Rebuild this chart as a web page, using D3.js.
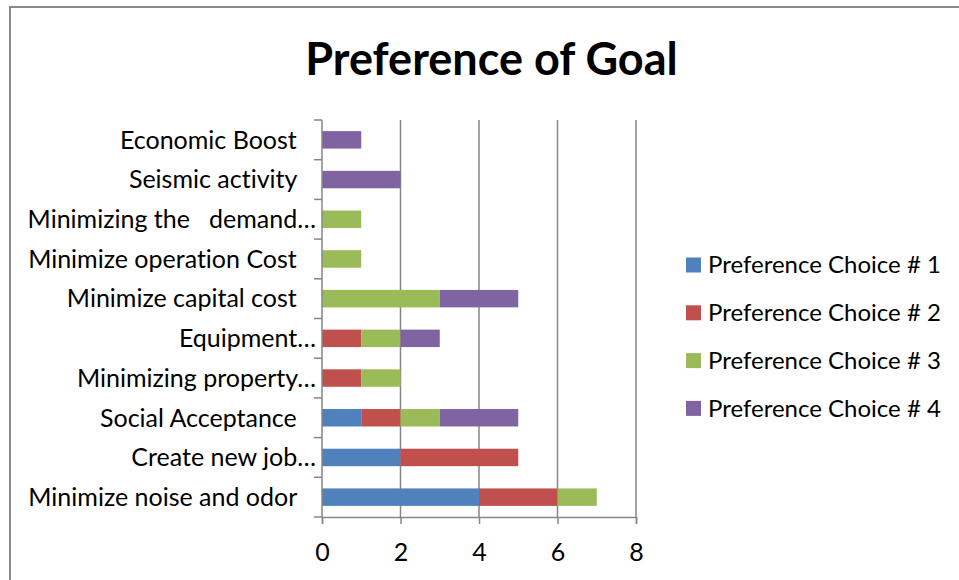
<!DOCTYPE html>
<html><head><meta charset="utf-8">
<script src="https://cdn.jsdelivr.net/npm/d3@7"></script>
<style>
html,body{margin:0;padding:0;background:#fff;}
svg{display:block;}
text{font-family:Lato,"Open Sans",sans-serif;fill:#000;font-variant-ligatures:none;font-feature-settings:"liga" 0,"clig" 0;}
</style></head>
<body>
<svg id="chart" width="959" height="580"></svg>
<script>
const title = "Preference of Goal";
// categories from bottom to top
const categories = [
  "Minimize noise and odor   ",
  "Create new job…",
  "Social Acceptance   ",
  "Minimizing property…",
  "Equipment…",
  "Minimize capital cost   ",
  "Minimize operation Cost   ",
  "Minimizing the   demand…",
  "Seismic activity   ",
  "Economic Boost   "
];
const seriesNames = ["Preference Choice # 1","Preference Choice # 2","Preference Choice # 3","Preference Choice # 4"];
const choice1 = [4,2,1,0,0,0,0,0,0,0];
const choice2 = [2,3,1,1,1,0,0,0,0,0];
const choice3 = [1,0,1,1,1,3,1,1,0,0];
const choice4 = [0,0,2,0,1,2,0,0,2,1];
const xTicks = [0,2,4,6,8];
const colors = ["#4F81BD","#C0504D","#9BBB59","#8064A2"];

const svg = d3.select("#chart");
// outer frame
svg.append("rect").attr("x",10).attr("y",7).attr("width",1000).attr("height",700)
  .attr("fill","none").attr("stroke","#8a8a8a").attr("stroke-width",2);

svg.append("text").attr("x",491.5).attr("y",75).attr("text-anchor","middle")
  .attr("font-size",45).attr("font-weight","bold").text(title);

const x = d3.scaleLinear().domain([0,8]).range([322,636]);
const y = d3.scaleBand().domain(categories).range([517,120]).paddingInner(0.56).paddingOuter(0.28);

// gridlines
svg.append("g").selectAll("line").data(xTicks.filter(d=>d>0)).join("line")
  .attr("x1",d=>x(d)).attr("x2",d=>x(d)).attr("y1",120).attr("y2",517)
  .attr("stroke","#868686").attr("stroke-width",1.5);

// stacked bars
const rows = categories.map((c,i)=>({cat:c, s0:choice1[i], s1:choice2[i], s2:choice3[i], s3:choice4[i]}));
const stack = d3.stack().keys(["s0","s1","s2","s3"])(rows);
svg.append("g").selectAll("g").data(stack).join("g").attr("fill",(d,i)=>colors[i])
  .selectAll("rect").data(d=>d.filter(p=>p[1]>p[0])).join("rect")
  .attr("x",d=>x(d[0])).attr("width",d=>x(d[1])-x(d[0]))
  .attr("y",d=>y(d.data.cat)).attr("height",y.bandwidth());

// x axis
const xAxis = svg.append("g").attr("transform","translate(0,517)")
  .call(d3.axisBottom(x).tickValues(xTicks).tickSize(7).tickPadding(19).tickFormat(d3.format("d")));
xAxis.select(".domain").attr("stroke","#868686").attr("stroke-width",1.5);
xAxis.selectAll(".tick line").attr("stroke","#868686").attr("stroke-width",1.5);
xAxis.selectAll("text").attr("font-size",25).attr("font-family","Lato,sans-serif").attr("fill","#000");

// y axis line + ticks at band boundaries
const step = y.step();
const bounds = d3.range(categories.length+1).map(i=>517 - i*step);
svg.append("line").attr("x1",322).attr("x2",322).attr("y1",120).attr("y2",517)
  .attr("stroke","#868686").attr("stroke-width",1.5);
svg.append("g").selectAll("line").data(bounds).join("line")
  .attr("x1",314).attr("x2",322).attr("y1",d=>d).attr("y2",d=>d)
  .attr("stroke","#868686").attr("stroke-width",1.5);

svg.append("g").selectAll("text").data(categories).join("text")
  .attr("x",316).attr("y",d=>y(d)+y.bandwidth()/2).attr("dy","0.35em")
  .attr("text-anchor","end").attr("font-size",25).style("white-space","pre")
  .text(d=>d);

// legend
const lg = svg.append("g").selectAll("g").data(seriesNames).join("g")
  .attr("transform",(d,i)=>`translate(686,${265 + i*47.8})`);
lg.append("rect").attr("x",0).attr("y",-7.5).attr("width",15).attr("height",15).attr("fill",(d,i)=>colors[i]);
lg.append("text").attr("x",22).attr("y",0).attr("dy","0.35em").attr("font-size",24).text(d=>d);
</script>
</body></html>
